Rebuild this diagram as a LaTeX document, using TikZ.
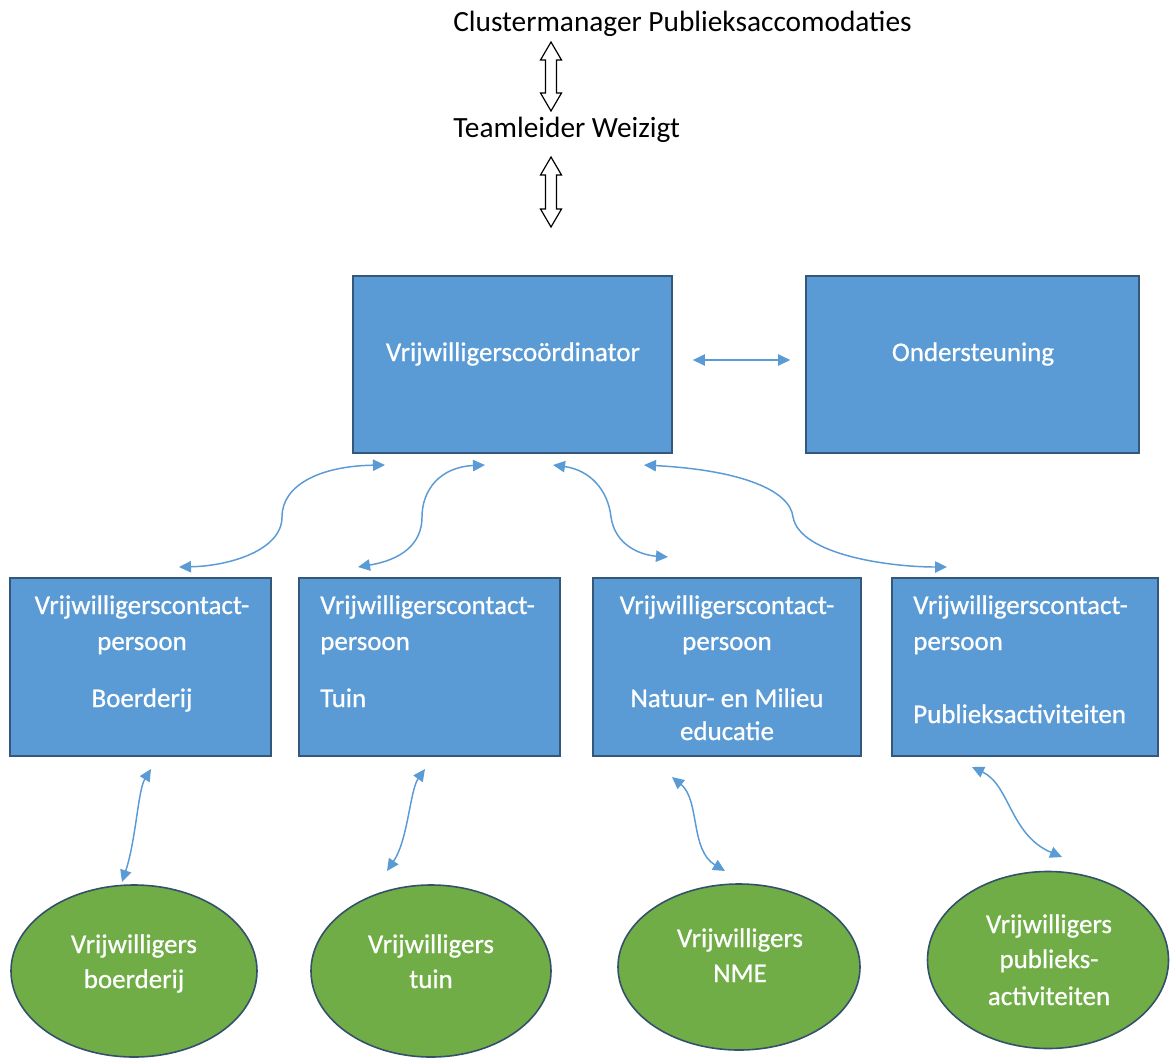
\documentclass[tikz,border=0pt]{standalone}
\usepackage{fontspec}
\setmainfont{Carlito}
\newfontfamily\boxfont[FakeBold=0.7]{Carlito}
\usetikzlibrary{arrows.meta,shapes.geometric,calc}
\newdimen\pxu \pxu=0.75pt
\definecolor{boxblue}{HTML}{5B9BD5}
\definecolor{boxline}{HTML}{35587A}
\definecolor{elgreen}{HTML}{70AD47}
\definecolor{elline}{HTML}{34506B}
\definecolor{arrblue}{HTML}{5B9BD5}
\begin{document}
\begin{tikzpicture}[x=0.75pt,y=-0.75pt,
  box/.style={draw=boxline, fill=boxblue, line width=1.3pt, rectangle, inner sep=0pt},
  oval/.style={draw=elline, fill=elgreen, line width=1.2pt, ellipse, inner sep=0pt},
  txt/.style={text=white, font=\boxfont\fontsize{20.2}{24}\selectfont, inner sep=0pt},
  ttl/.style={text=black, font=\fontsize{22}{26}\selectfont, inner sep=0pt},
  hollow/.style={draw=black, line width=0.9pt, fill=white},
  conn/.style={draw=arrblue, line width=1.1pt, {Triangle[length=9pt,width=8.5pt]}-{Triangle[length=9pt,width=8.5pt]}}
]
\useasboundingbox[fill=white] (0,0) rectangle (1171,1058);

% top titles
\node[ttl, anchor=base west] (cm) at (453,31) {Clustermanager Publieksaccomodaties};
\node[ttl, anchor=base west] (tl) at (453,137) {Teamleider Weizigt};

% hollow double arrows
\coordinate (h1t) at (551,42);
\coordinate (h1b) at (551,111);
\coordinate (h2t) at (551,157);
\coordinate (h2b) at (551,227);
\draw[hollow] (h1t) -- ++(-10.5,18) -- ++(5,0) -- ++(0,33) -- ++(-5,0) -- (h1b)
  -- ++(10.5,-18) -- ++(-5,0) -- ++(0,-33) -- ++(5,0) -- cycle;
\draw[hollow] (h2t) -- ++(-10.5,18) -- ++(5,0) -- ++(0,34) -- ++(-5,0) -- (h2b)
  -- ++(10.5,-18) -- ++(-5,0) -- ++(0,-34) -- ++(5,0) -- cycle;

% main boxes
\node[box, minimum width=319\pxu, minimum height=177\pxu] (coord) at (512.5,364.5) {};
\node[txt, anchor=base] (coordt) at (513,361) {Vrijwilligerscoördinator};
\node[box, minimum width=333\pxu, minimum height=177\pxu] (ond) at (972.5,364.5) {};
\node[txt, anchor=base] (ondt) at (973,361) {Ondersteuning};

% contact boxes
\node[box, minimum width=261\pxu, minimum height=178\pxu] (c1) at (140.5,667) {};
\node[box, minimum width=261\pxu, minimum height=178\pxu] (c2) at (429.5,667) {};
\node[box, minimum width=268\pxu, minimum height=178\pxu] (c3) at (727,667) {};
\node[box, minimum width=266\pxu, minimum height=178\pxu] (c4) at (1025,667) {};

\node[txt, anchor=base] (c1a) at (142,614) {Vrijwilligerscontact-};
\node[txt, anchor=base] (c1b) at (142,650) {persoon};
\node[txt, anchor=base] (c1c) at (142,707) {Boerderij};

\node[txt, anchor=base west] (c2a) at (320,614) {Vrijwilligerscontact-};
\node[txt, anchor=base west] (c2b) at (320,650) {persoon};
\node[txt, anchor=base west] (c2c) at (320,707) {Tuin};

\node[txt, anchor=base] (c3a) at (727,614) {Vrijwilligerscontact-};
\node[txt, anchor=base] (c3b) at (727,650) {persoon};
\node[txt, anchor=base] (c3c) at (727,707) {Natuur- en Milieu};
\node[txt, anchor=base] (c3d) at (727,740) {educatie};

\node[txt, anchor=base west] (c4a) at (913,614) {Vrijwilligerscontact-};
\node[txt, anchor=base west] (c4b) at (913,650) {persoon};
\node[txt, anchor=base west] (c4c) at (913,723) {Publieksactiviteiten};

% ellipses
\node[oval, minimum width=246\pxu, minimum height=172\pxu] (e1) at (134,971) {};
\node[oval, minimum width=240\pxu, minimum height=172\pxu] (e2) at (431,971) {};
\node[oval, minimum width=242\pxu, minimum height=166\pxu] (e3) at (739,967) {};
\node[oval, minimum width=241\pxu, minimum height=177\pxu] (e4) at (1048,960) {};

\node[txt, anchor=base] (e1a) at (134,953) {Vrijwilligers};
\node[txt, anchor=base] (e1b) at (134,988) {boerderij};
\node[txt, anchor=base] (e2a) at (431,953) {Vrijwilligers};
\node[txt, anchor=base] (e2b) at (431,988) {tuin};
\node[txt, anchor=base] (e3a) at (740,947) {Vrijwilligers};
\node[txt, anchor=base] (e3b) at (740,982) {NME};
\node[txt, anchor=base] (e4a) at (1049,933) {Vrijwilligers};
\node[txt, anchor=base] (e4b) at (1049,968) {publieks-};
\node[txt, anchor=base] (e4c) at (1049,1005) {activiteiten};

% connectors
\draw[conn] ($(coord.east)+(20,-4.5)$) -- ($(ond.west)+(-15,-4.5)$);

\coordinate (a1) at (385,465); \coordinate (a2) at (179,567);
\coordinate (b1) at (485,465); \coordinate (b2) at (358,567);
\coordinate (g1) at (553,465); \coordinate (g2) at (668,557);
\coordinate (d1) at (644,465); \coordinate (d2) at (947,567);
\draw[conn] (a1) .. controls (320,466) and (282,485) .. (282,517) .. controls (282,550) and (230,566) .. (a2);
\draw[conn] (b1) .. controls (440,467) and (422,490) .. (422,517) .. controls (422,545) and (400,560) .. (b2);
\draw[conn] (g1) .. controls (590,470) and (608,490) .. (611,517) .. controls (615,545) and (640,555) .. (g2);
\draw[conn] (d1) .. controls (740,470) and (790,490) .. (793,517) .. controls (800,555) and (890,567) .. (d2);

\coordinate (p1) at (151,769); \coordinate (q1) at (122,882);
\coordinate (p2) at (425,769); \coordinate (q2) at (387,871);
\coordinate (p3) at (672,777); \coordinate (q3) at (725,871);
\coordinate (p4) at (972,767); \coordinate (q4) at (1062,857);
\draw[conn] (p1) .. controls (138,790) and (136,840) .. (q1);
\draw[conn] (p2) .. controls (410,790) and (408,840) .. (q2);
\draw[conn] (p3) .. controls (700,800) and (690,850) .. (q3);
\draw[conn] (p4) .. controls (1010,785) and (1010,835) .. (q4);
\end{tikzpicture}
\end{document}
